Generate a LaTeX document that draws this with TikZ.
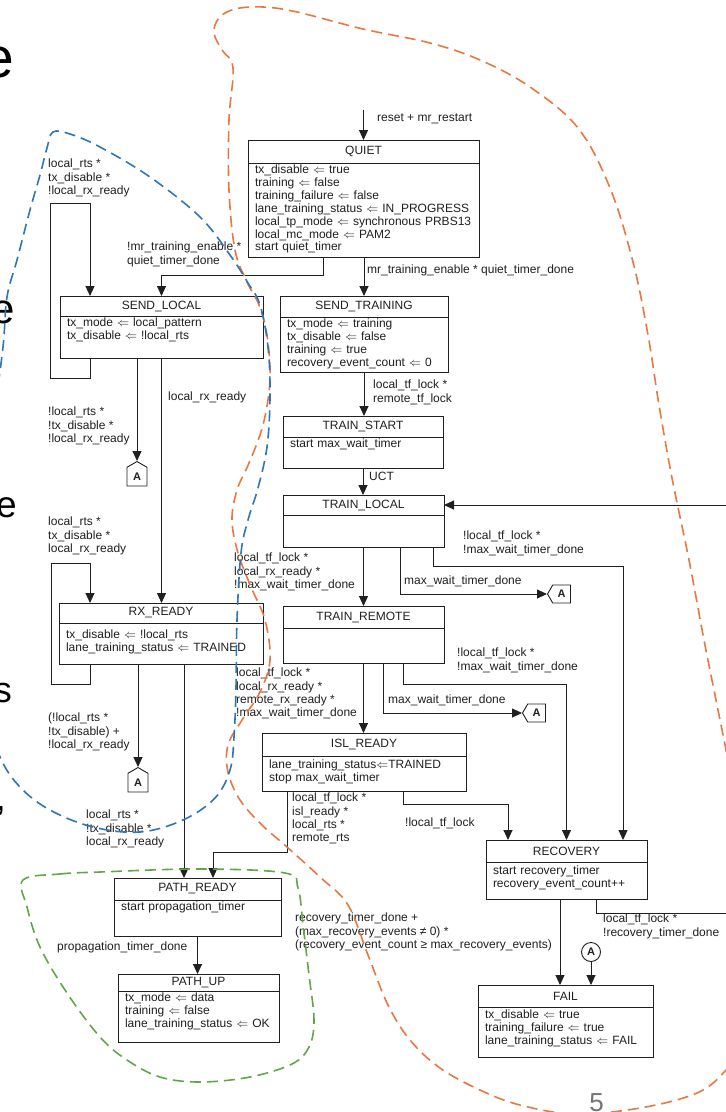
\documentclass[tikz,border=0pt]{standalone}
\usepackage{fontspec}
\setmainfont{Liberation Sans}
\usetikzlibrary{arrows.meta, positioning, shapes.symbols}

\newcommand{\stfont}{\fontsize{12}{12.9}\selectfont}
\newcommand{\lblfont}{\fontsize{12}{13.2}\selectfont}
\newcommand{\asg}{$\Leftarrow$}

\definecolor{linecol}{RGB}{32,32,32}
\definecolor{orangereg}{RGB}{232,120,66}
\definecolor{bluereg}{RGB}{45,118,186}
\definecolor{greenreg}{RGB}{98,166,72}

\begin{document}
\begin{tikzpicture}[x=1pt, y=-1pt,
    sttitle/.style={draw=linecol, line width=0.9pt, fill=white, anchor=north west,
                    inner sep=0pt, outer sep=0pt, minimum height=21pt, font=\stfont, text=linecol},
    stbody/.style={draw=linecol, line width=0.9pt, fill=white, inner xsep=7pt, inner ysep=2.5pt,
                   outer sep=0pt, align=left, text height=8pt, font=\stfont, text=linecol},
    lbl/.style={anchor=north west, inner sep=0pt, align=left, font=\lblfont, text=linecol},
    conn/.style={draw=linecol, line width=0.9pt, signal, signal pointer angle=120, inner sep=0pt,
                 font=\fontsize{11}{11}\selectfont\bfseries, text=linecol},
    conncirc/.style={draw=linecol, line width=0.9pt, circle, minimum size=19pt, inner sep=0pt,
                     font=\fontsize{11}{11}\selectfont\bfseries, text=linecol},
    frag/.style={anchor=base east, inner sep=0pt},
    arrow/.style={-{Triangle[length=10pt,width=9pt]}, line width=0.9pt, draw=linecol},
    region/.style={line width=1.6pt, dash pattern=on 11pt off 6pt}
]
\useasboundingbox (0,0) rectangle (726,1112);
\clip (0,0) rectangle (726,1112);
\fill[white] (0,0) rectangle (726,1112);

% ---- cut-off slide text at the left edge ----
\node[frag, font=\fontsize{57}{57}\selectfont] (frag1) at (14,77) {e};
\node[frag, font=\fontsize{42}{42}\selectfont] (frag2) at (15,323) {e};
\node[frag, font=\fontsize{37}{37}\selectfont] (frag3) at (17,517) {e};
\node[frag, font=\fontsize{36}{36}\selectfont] (frag4) at (12,702) {s};
\node[frag, font=\fontsize{37}{37}\selectfont] (frag5) at (6,810) {,};

% ---- States ----
\node[sttitle, minimum width=231pt, minimum height=23pt] (quiet) at (248,140) {QUIET};
\node[stbody, below=0pt of quiet, text width=217pt, text depth=81pt] (quietb)
    {tx\_disable \asg{} true\\training \asg{} false\\training\_failure \asg{} false\\
     lane\_training\_status \asg{} IN\_PROGRESS\\\mbox{local\_tp\_mode \asg{} synchronous PRBS13}\\
     local\_mc\_mode \asg{} PAM2\\start quiet\_timer};

\node[sttitle, minimum width=203pt, minimum height=20pt] (sendl) at (60,296) {SEND\_LOCAL};
\node[stbody, below=0pt of sendl, text width=189pt, text depth=29pt] (sendlb)
    {tx\_mode \asg{} local\_pattern\\tx\_disable \asg{} !local\_rts};

\node[sttitle, minimum width=168pt] (sendtr) at (280,296) {SEND\_TRAINING};
\node[stbody, below=0pt of sendtr, text width=154pt, text depth=42pt] (sendtrb)
    {tx\_mode \asg{} training\\tx\_disable \asg{} false\\training \asg{} true\\
     recovery\_event\_count \asg{} 0};

\node[sttitle, minimum width=160pt] (trstart) at (283,416) {TRAIN\_START};
\node[stbody, below=0pt of trstart, text width=146pt, text depth=18pt] (trstartb)
    {start max\_wait\_timer};

\node[sttitle, minimum width=161pt, minimum height=20pt] (trlocal) at (283,495) {TRAIN\_LOCAL};
\node[stbody, below=0pt of trlocal, text width=147pt, text depth=19pt] (trlocalb) {};

\node[sttitle, minimum width=161pt, minimum height=22pt] (trremote) at (283,606) {TRAIN\_REMOTE};
\node[stbody, below=0pt of trremote, text width=147pt, text depth=22pt] (trremoteb) {};

\node[sttitle, minimum width=204pt, minimum height=20pt] (rxready) at (59,603) {RX\_READY};
\node[stbody, below=0pt of rxready, text width=190pt, text height=13pt, text depth=23pt] (rxreadyb)
    {tx\_disable \asg{} !local\_rts\\lane\_training\_status \asg{} TRAINED};

\node[sttitle, minimum width=204pt, minimum height=23pt] (islready) at (262,733) {ISL\_READY};
\node[stbody, below=0pt of islready, text width=190pt, text height=10pt, text depth=20pt] (islreadyb)
    {lane\_training\_status\asg{}TRAINED\\stop max\_wait\_timer};

\node[sttitle, minimum width=161pt, minimum height=22pt] (recov) at (486,840) {RECOVERY};
\node[stbody, below=0pt of recov, text width=147pt, text height=10pt, text depth=22pt] (recovb)
    {start recovery\_timer\\recovery\_event\_count++};

\node[sttitle, minimum width=167pt, minimum height=22pt] (pathready) at (114,878) {PATH\_READY};
\node[stbody, below=0pt of pathready, text width=153pt, text depth=23pt] (pathreadyb)
    {start propagation\_timer};

\node[sttitle, minimum width=161pt, minimum height=17pt] (pathup) at (118,974) {PATH\_UP};
\node[stbody, below=0pt of pathup, text width=147pt, text depth=38pt] (pathupb)
    {tx\_mode \asg{} data\\training \asg{} false\\lane\_training\_status \asg{} OK};

\node[sttitle, minimum width=175pt, minimum height=22pt] (fail) at (478,985) {FAIL};
\node[stbody, below=0pt of fail, text width=161pt, text height=9pt, text depth=36pt] (failb)
    {tx\_disable \asg{} true\\training\_failure \asg{} true\\lane\_training\_status \asg{} FAIL};

% ---- Off-page connectors ----
\node[conn, signal to=north, minimum width=20pt, minimum height=21pt, anchor=north] (cona1) at (137,461) {A};
\node[conn, signal to=north, minimum width=20pt, minimum height=21pt, anchor=north] (cona2) at (138,767) {A};
\node[conn, signal to=west, minimum width=23pt, minimum height=18pt, anchor=west] (cona3) at (547,594) {A};
\node[conn, signal to=west, minimum width=23pt, minimum height=18pt, anchor=west] (cona4) at (522,713) {A};
\node[conncirc] (circa) at (591,952) {A};

\coordinate (qin) at (363.5,110);
\coordinate (offr) at (745,913);

% ======== Transitions ========
\draw[arrow] (qin) -- (quiet.north);
\draw[arrow] (quietb.south -| sendtr.north) -- (sendtr.north);
\draw[arrow] ([xshift=-40.5pt]quietb.south) -- ++(0,18) -| (sendl.north);

\draw[arrow] ([xshift=30pt]sendlb.south west) -- ++(0,20) -- ++(-40,0)
    |- ([xshift=30pt,yshift=93pt]sendl.north west) -- ([xshift=30pt]sendl.north west);
\draw[arrow] (sendlb.south -| cona1.north) -- (cona1.north);
\draw[arrow] (sendlb.south) -- (sendlb.south |- rxready.north);

\draw[arrow] ([xshift=31pt]rxreadyb.south west) -- ++(0,20) -- ++(-39,0)
    |- ([xshift=31pt,yshift=40pt]rxready.north west) -- ([xshift=31pt]rxready.north west);
\draw[arrow] (rxreadyb.south -| cona2.north) -- (cona2.north);
\draw[arrow] ([xshift=70pt]pathready.north west |- rxreadyb.south) -- ([xshift=70pt]pathready.north west);

\draw[arrow] (sendtrb.south) -- (sendtrb.south |- trstart.north);
\draw[arrow] (trstartb.south) -- (trstartb.south |- trlocal.north);
\draw[arrow] (trlocalb.south) -- (trlocalb.south |- trremote.north);
\draw[arrow] (trremoteb.south) -- (trremoteb.south |- islready.north);

\draw[arrow] ([xshift=117pt]trlocalb.south west) |- (cona3.west);
\draw[arrow] ([xshift=150pt]trlocalb.south west) -- ++(0,19) -| ([xshift=137pt]recov.north west);
\draw[arrow] ([xshift=100pt]trremoteb.south west) |- (cona4.west);
\draw[arrow] ([xshift=120pt]trremoteb.south west) -- ++(0,21) -| (recov.north);
\draw[arrow] ([xshift=141pt]islreadyb.south west) -- ++(0,13) -| ([xshift=22pt]recov.north west);
\draw[arrow] ([xshift=25pt]islreadyb.south west) -- ++(0,61) -| ([xshift=99pt]pathready.north west);

\draw[arrow] (pathreadyb.south) -- (pathreadyb.south |- pathup.north);
\draw[arrow] ([xshift=82pt]fail.north west |- recovb.south) -- ([xshift=82pt]fail.north west);
\draw[arrow] (circa.south) -- (circa.south |- fail.north);
\draw[arrow] ([xshift=110pt]recovb.south west) |- (offr) |- (trlocal.east);

% ======== Transition conditions ========
\node[lbl] (lreset)   at (377,114) {reset + mr\_restart};
\node[lbl] (lmrte)    at (367,265) {mr\_training\_enable * quiet\_timer\_done};
\node[lbl] (lnmrte)   at (127,242) {!mr\_training\_enable *\\quiet\_timer\_done};
\node[lbl] (lslloop)  at (48,159)  {local\_rts *\\tx\_disable *\\!local\_rx\_ready};
\node[lbl] (lsla)     at (48,407)  {!local\_rts *\\!tx\_disable *\\!local\_rx\_ready};
\node[lbl] (lslrx)    at (168,392) {local\_rx\_ready};
\node[lbl] (lrxloop)  at (48,517)  {local\_rts *\\tx\_disable *\\local\_rx\_ready};
\node[lbl] (lrxa)     at (48,713)  {(!local\_rts *\\!tx\_disable) +\\!local\_rx\_ready};
\node[lbl] (lrxpr)    at (86,810)  {local\_rts *\\!tx\_disable *\\local\_rx\_ready};
\node[lbl] (lprpu)    at (57,942)  {propagation\_timer\_done};
\node[lbl] (lislpr)   at (292,793) {local\_tf\_lock *\\isl\_ready *\\local\_rts *\\remote\_rts};
\node[lbl] (lsttrs)   at (373,380) {local\_tf\_lock *\\remote\_tf\_lock};
\node[lbl] (luct)     at (369,472) {UCT};
\node[lbl] (ltlrec)   at (463,531) {!local\_tf\_lock *\\!max\_wait\_timer\_done};
\node[lbl] (ltla)     at (404,576) {max\_wait\_timer\_done};
\node[lbl] (ltltr)    at (234,553) {local\_tf\_lock *\\local\_rx\_ready *\\!max\_wait\_timer\_done};
\node[lbl] (ltrrec)   at (457,648) {!local\_tf\_lock *\\!max\_wait\_timer\_done};
\node[lbl] (ltra)     at (388,695) {max\_wait\_timer\_done};
\node[lbl] (ltrisl)   at (236,668) {local\_tf\_lock *\\local\_rx\_ready *\\remote\_rx\_ready *\\!max\_wait\_timer\_done};
\node[lbl] (lislrec)  at (405,818) {!local\_tf\_lock};
\node[lbl] (lrecfail) at (295,913) {recovery\_timer\_done +\\(max\_recovery\_events ≠ 0) *\\(recovery\_event\_count ≥ max\_recovery\_events)};
\node[lbl] (lrecloop) at (603,914) {local\_tf\_lock *\\!recovery\_timer\_done};

\node[anchor=base, inner sep=0pt, font=\fontsize{26}{26}\selectfont, text=black!55] (pagenum) at (596.5,1111) {5};

% ======== Regions (dashed) ========
\draw[region, orangereg] plot[smooth cycle, tension=0.6] coordinates {
    (728,760) (745,850) (750,960) (740,1045) (726,1070) (697,1093) (640,1108) (575,1114)
    (520,1105) (480,1090) (440,1068) (410,1040) (388,1005) (368,955) (348,905) (320,877)
    (287,847) (262,825) (240,800) (228,772) (228,745) (242,720) (260,692) (270,660)
    (265,620) (251,587) (238,553) (232,520) (237,490) (249,463) (263,425) (270,380)
    (267,335) (259,305) (247,282) (235,250) (229,190) (229,120) (233,68) (222,50)
    (214,33) (219,18) (235,9) (263,7) (297,12) (363,29) (430,43) (480,60) (530,87)
    (578,128) (610,188) (633,262) (648,335) (659,405) (672,478) (689,560) (704,640) (717,705)};
\draw[region, bluereg] plot[smooth, tension=0.6] coordinates {
    (-20,700) (0,757) (20,787) (50,810) (93,827) (140,832) (183,820) (215,798) (230,770)
    (234,737) (236,687) (237,620) (241,553) (248,520) (258,488) (267,447) (270,397)
    (268,347) (260,305) (248,283) (230,255) (200,217) (150,177) (100,147) (70,134)
    (53,132) (47,148) (40,175) (30,210) (17,260) (7,297) (3,347) (-5,400) (-20,450)};
\draw[region, greenreg] plot[smooth cycle, tension=0.6] coordinates {
    (23,880) (60,874) (100,872) (200,869) (285,873) (298,888) (303,925) (309,975)
    (314,1020) (309,1047) (292,1064) (250,1077) (200,1082) (160,1077) (127,1060)
    (100,1037) (67,993) (40,947) (27,907)};

\end{tikzpicture}
\end{document}
